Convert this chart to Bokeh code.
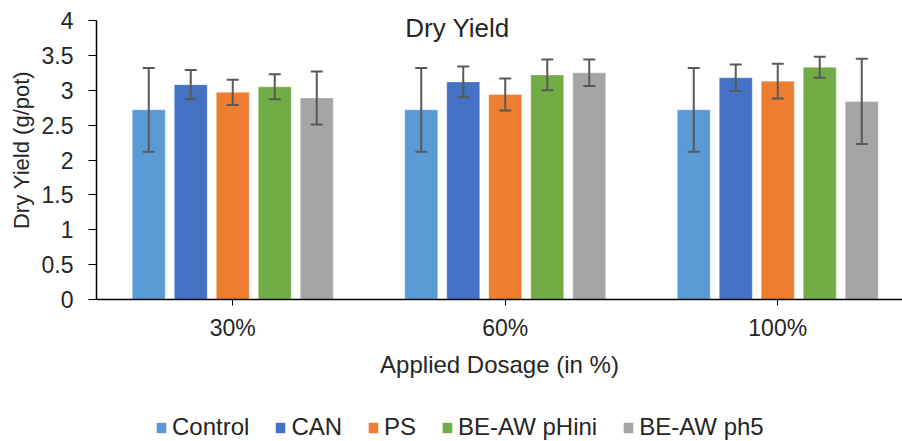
from bokeh.plotting import figure
from bokeh.models import (ColumnDataSource, Range1d, FixedTicker, NumeralTickFormatter,
                          Legend, LegendItem, Label)
from bokeh.layouts import column
from bokeh.embed import file_html
from bokeh.resources import INLINE

# Dry yield per dosage level, mean and error (g/pot)
dosages = ["30%", "60%", "100%"]
treatments = ["Control", "CAN", "PS", "BE-AW pHini", "BE-AW ph5"]
control = [2.72, 2.72, 2.72]
can = [3.08, 3.12, 3.18]
ps = [2.97, 2.94, 3.13]
be_aw_phini = [3.05, 3.22, 3.33]
be_aw_ph5 = [2.89, 3.25, 2.84]
control_err = [0.60, 0.60, 0.60]
can_err = [0.21, 0.22, 0.19]
ps_err = [0.18, 0.23, 0.25]
be_aw_phini_err = [0.18, 0.22, 0.15]
be_aw_ph5_err = [0.38, 0.19, 0.61]
y_ticks = [0, 0.5, 1, 1.5, 2, 2.5, 3, 3.5, 4]

series = [control, can, ps, be_aw_phini, be_aw_ph5]
errors = [control_err, can_err, ps_err, be_aw_phini_err, be_aw_ph5_err]
colors = ["#5B9BD5", "#4472C4", "#ED7D31", "#70AD47", "#A5A5A5"]

FONT = "Liberation Sans"
TEXT = "#262626"
ERR = "#595959"

# pixel scale of the plot area: 272.5 px per dosage group, 69.75 px per g/pot
GROUP_PX = 272.5
UNIT_PX = 69.75
FRAME_W = 806
FRAME_H = 299
MAIN_H = 414

p = figure(width=902, height=MAIN_H, output_backend="svg", toolbar_location=None,
           title=None, x_range=Range1d(0, FRAME_W / GROUP_PX),
           y_range=Range1d(0, FRAME_H / UNIT_PX),
           min_border_left=96, min_border_right=0, min_border_top=0,
           min_border_bottom=MAIN_H - FRAME_H)
p.outline_line_color = None
p.xgrid.visible = False
p.ygrid.visible = False
p.background_fill_color = "white"
p.border_fill_color = "white"

bar_w = 33 / GROUP_PX
step = 42 / GROUP_PX
cap = 6 / GROUP_PX
centers = [i + 0.5 for i in range(len(dosages))]

for k, (vals, errs, col) in enumerate(zip(series, errors, colors)):
    xs = [c + (k - 2) * step for c in centers]
    upper = [v + e for v, e in zip(vals, errs)]
    lower = [v - e for v, e in zip(vals, errs)]
    src = ColumnDataSource(dict(x=xs, top=vals, upper=upper, lower=lower,
                                xl=[x - cap for x in xs], xr=[x + cap for x in xs]))
    p.vbar(x="x", top="top", width=bar_w, source=src, fill_color=col,
           line_color="white", line_alpha=0.35, line_width=1)
    # error bars with flat caps
    p.segment(x0="x", y0="lower", x1="x", y1="upper", source=src,
              line_color=ERR, line_width=2)
    p.segment(x0="xl", y0="upper", x1="xr", y1="upper", source=src,
              line_color=ERR, line_width=2)
    p.segment(x0="xl", y0="lower", x1="xr", y1="lower", source=src,
              line_color=ERR, line_width=2)

# axes
xa = p.xaxis[0]
xa.ticker = FixedTicker(ticks=centers)
xa.major_label_overrides = {c: d for c, d in zip(centers, dosages)}
xa.minor_tick_line_color = None
xa.major_tick_in = 0
xa.major_tick_out = 6
xa.axis_line_color = "black"
xa.axis_line_width = 1.5
xa.major_tick_line_color = "black"
xa.major_label_text_font = FONT
xa.major_label_text_font_size = "23px"
xa.major_label_text_color = TEXT
xa.major_label_standoff = 9
xa.axis_label = "Applied Dosage (in %)"
xa.axis_label_text_font = FONT
xa.axis_label_text_font_size = "24px"
xa.axis_label_text_font_style = "normal"
xa.axis_label_text_color = TEXT
xa.axis_label_standoff = 7

ya = p.yaxis[0]
ya.bounds = (0, 4)
ya.ticker = FixedTicker(ticks=y_ticks)
ya.formatter = NumeralTickFormatter(format="0.[0]")
ya.minor_tick_line_color = None
ya.major_tick_in = 0
ya.major_tick_out = 8
ya.axis_line_color = "black"
ya.axis_line_width = 1.5
ya.major_tick_line_color = "black"
ya.major_label_text_font = FONT
ya.major_label_text_font_size = "23px"
ya.major_label_text_color = TEXT
ya.major_label_standoff = 15
ya.axis_label = "Dry Yield (g/pot)"
ya.axis_label_text_font = FONT
ya.axis_label_text_font_size = "22px"
ya.axis_label_text_font_style = "normal"
ya.axis_label_text_color = TEXT
ya.axis_label_standoff = 5

# chart title inside the plot area
p.add_layout(Label(x=(457 - 96) / GROUP_PX, y=(FRAME_H - 27) / UNIT_PX, text="Dry Yield",
                   text_align="center", text_baseline="middle", text_font=FONT,
                   text_font_size="26px", text_color=TEXT))

# legend strip under the chart; its swatches come from bars kept out of view
leg = figure(width=902, height=441 - MAIN_H, output_backend="svg", toolbar_location=None,
             title=None, x_range=Range1d(0, 1), y_range=Range1d(5, 6),
             min_border=0)
leg.xaxis.visible = False
leg.yaxis.visible = False
leg.xgrid.visible = False
leg.ygrid.visible = False
leg.outline_line_color = None
leg.border_fill_color = None
leg.background_fill_color = None
items = []
for name, col in zip(treatments, colors):
    r = leg.vbar(x=[0.5], top=[1], width=0.1, fill_color=col, line_color=None)
    items.append(LegendItem(label=name, renderers=[r]))
legend = Legend(items=items, orientation="horizontal", location=(59, 0),
                label_text_font=FONT, label_text_font_size="24px",
                label_text_color=TEXT, glyph_width=12, glyph_height=13,
                label_standoff=5, spacing=25, padding=0, margin=0,
                border_line_alpha=0, background_fill_alpha=0)
leg.add_layout(legend, "center")

page = column(p, leg, spacing=0)
open("out.html", "w").write(file_html(page, INLINE))
